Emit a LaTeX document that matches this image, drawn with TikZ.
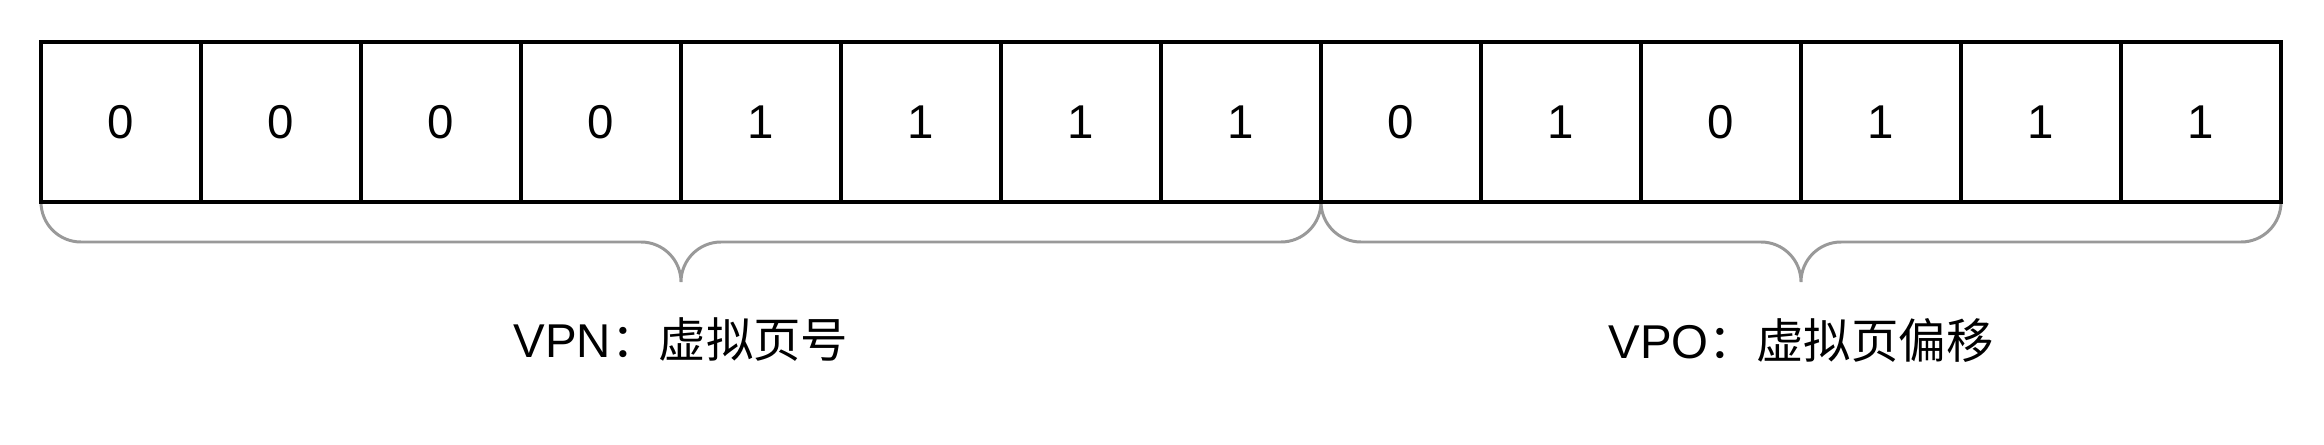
\documentclass[tikz,border=0pt]{standalone}
\usepackage{fontspec}
\setmainfont{Liberation Sans}
\newfontfamily\cjk{Noto Sans CJK SC}
\usetikzlibrary{positioning}

\tikzset{
  bitcell/.style={draw=black,line width=1.05pt,minimum width=1.6cm,minimum height=1.6cm,
    inner sep=0pt,outer sep=0pt,font=\fontsize{13.5}{16}\selectfont},
  brace/.style={draw=black!40,line width=0.85pt},
  partlabel/.style={inner sep=0pt,font=\fontsize{13.5}{16}\selectfont}
}

\begin{document}
\begin{tikzpicture}
\useasboundingbox (0,0) rectangle (23.24,4.44);
% ---------- 括号 ----------
\path (0.41,2.42) coordinate (la) (13.21,2.42) coordinate (ma) (22.81,2.42) coordinate (ra);
\draw[brace] (la) arc[start angle=180,end angle=270,radius=0.4] -- ++(5.6,0)
  arc[start angle=90,end angle=0,radius=0.4] coordinate (tipa)
  arc[start angle=180,end angle=90,radius=0.4] -- ++(5.6,0)
  arc[start angle=270,end angle=360,radius=0.4];
\draw[brace] (ma) arc[start angle=180,end angle=270,radius=0.4] -- ++(4.0,0)
  arc[start angle=90,end angle=0,radius=0.4] coordinate (tipb)
  arc[start angle=180,end angle=90,radius=0.4] -- ++(4.0,0)
  arc[start angle=270,end angle=360,radius=0.4];
% ---------- 14 位 ----------
\foreach \b [count=\i] in {0,0,0,0,1,1,1,1,0,1,0,1,1,1}{
  \node[bitcell] (c\i) at ({0.41+1.6*\i-0.8},3.22) {\b};
}
% ---------- 标注 ----------
\node[partlabel] (vpn) at ([yshift=-0.58cm]tipa) {VPN{\cjk：虚拟页号}};
\node[partlabel] (vpo) at ([yshift=-0.58cm]tipb) {VPO{\cjk：虚拟页偏移}};
\end{tikzpicture}
\end{document}
